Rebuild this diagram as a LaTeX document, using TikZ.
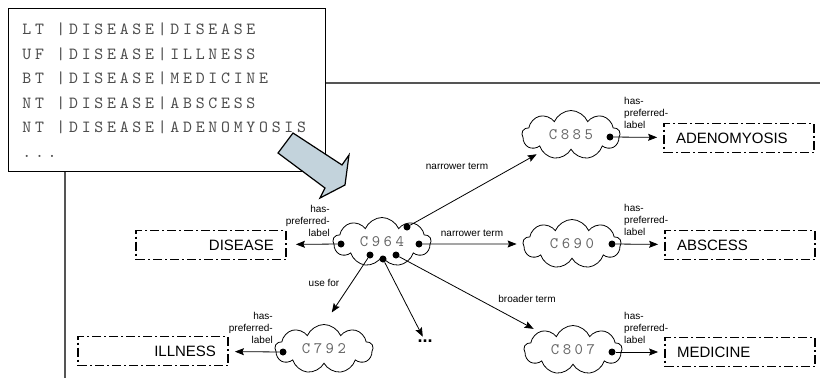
\documentclass[tikz,border=0pt]{standalone}
\usepackage{fontspec}
\setmainfont{Liberation Sans}
\newfontfamily\codefont{lmmono10-regular}[Extension=.otf,LetterSpace=22]
\newcommand\colgap{\hspace{12.5pt}}
\usetikzlibrary{shapes.symbols,arrows.meta}
\definecolor{arrowfill}{HTML}{C3D3DC}
\definecolor{framegray}{HTML}{555555}
\begin{document}
\begin{tikzpicture}[x=1pt,y=-1pt,
  concept/.style={cloud,draw,cloud puffs=9,cloud puff arc=135,aspect=2,
    minimum width=98pt,minimum height=49pt,inner sep=0pt,line width=0.8pt,
    font=\codefont\fontsize{16}{16}\selectfont,text=black!60},
  termbox/.style={draw,line width=1.8pt,dash pattern=on 9pt off 3pt on 2pt off 3pt,
    text width=126pt,inner xsep=12pt,minimum height=29pt,
    font=\fontsize{15}{15}\selectfont},
  rel/.style={-{Stealth[length=9pt,width=7pt,inset=1.5pt]},line width=0.8pt,shorten >=6pt},
  rellbl/.style={font=\fontsize{10}{12}\selectfont,inner sep=0pt},
  dot/.style={circle,fill,inner sep=0pt,minimum size=7pt}]
\useasboundingbox (0,0) rectangle (820,378);
% page frame behind the term list
\draw[framegray,line width=1.2pt] (320,83) -- (820,83);
\draw[framegray,line width=1.2pt] (65,165) -- (65,378);
% term list
\node[draw,fill=white,anchor=north west,minimum width=317pt,minimum height=163pt,
  text width=289pt,inner xsep=14pt,align=left,text=black!70,line width=0.8pt,
  font=\codefont\fontsize{17}{24.5}\selectfont] (terms) at (8,8)
  {LT\colgap|DISEASE|DISEASE\\UF\colgap|DISEASE|ILLNESS\\BT\colgap|DISEASE|MEDICINE\\
   NT\colgap|DISEASE|ABSCESS\\NT\colgap|DISEASE|ADENOMYOSIS\\...};
% block arrow
\draw[fill=arrowfill,line width=1.2pt] (278,153) -- (293,133) -- (342,165) -- (349,155)
  -- (345,185) -- (320,198) -- (325,188) -- cycle;
% concepts
\node[concept] (c964) at (382,242) {C964};
\node[concept] (c885) at (571,135) {C885};
\node[concept] (c690) at (572,244) {C690};
\node[concept] (c807) at (573,350) {C807};
\node[concept] (c792) at (324,349) {C792};
% preferred labels
\node[termbox,align=right] (disease) at (211,245) {DISEASE};
\node[termbox,align=right] (illness) at (153,351) {ILLNESS};
\node[termbox,align=left] (adeno) at (739,138) {ADENOMYOSIS};
\node[termbox,align=left] (abscess) at (740,245) {ABSCESS};
\node[termbox,align=left] (medicine) at (740,352) {MEDICINE};
\node[font=\bfseries\fontsize{18}{18}\selectfont,inner sep=1pt] (more) at (425,341) {...};
% relation dots
\node[dot] (d964w) at (341,244) {};
\node[dot] (d964e) at (419,244) {};
\node[dot] (d964ne) at (407,227) {};
\node[dot] (d964sw) at (370,255) {};
\node[dot] (d964s) at (383,259) {};
\node[dot] (d964se) at (396,255) {};
\node[dot] (d885) at (610,137) {};
\node[dot] (d690) at (612,244) {};
\node[dot] (d807) at (612,352) {};
\node[dot] (d792) at (283,352) {};
% relations
\draw[rel,shorten >=9pt] (d964w) -- (disease);
\draw[rel] (d964e) -- (c690);
\draw[rel] (d964ne) -- (c885);
\draw[rel,shorten >=14pt] (d964sw) -- (c792.north);
\draw[rel,shorten >=2pt] (d964s) -- (more);
\draw[rel] (d964se) -- (c807);
\draw[rel] (d885) -- (adeno);
\draw[rel] (d690) -- (abscess);
\draw[rel] (d807) -- (medicine);
\draw[rel] (d792) -- (illness);
% relation names
\node[rellbl,anchor=east,align=right] (l964) at (330,221) {has-\\preferred-\\label};
\node[rellbl,anchor=west,align=left] (l885) at (624,113) {has-\\preferred-\\label};
\node[rellbl,anchor=west,align=left] (l690) at (624,220) {has-\\preferred-\\label};
\node[rellbl,anchor=west,align=left] (l807) at (624,328) {has-\\preferred-\\label};
\node[rellbl,anchor=east,align=right] (l792) at (273,328) {has-\\preferred-\\label};
\node[rellbl] (nt1) at (457,166) {narrower term};
\node[rellbl] (nt2) at (472,233) {narrower term};
\node[rellbl] (uf) at (324,283) {use for};
\node[rellbl] (bt) at (527,299) {broader term};
\end{tikzpicture}
\end{document}
